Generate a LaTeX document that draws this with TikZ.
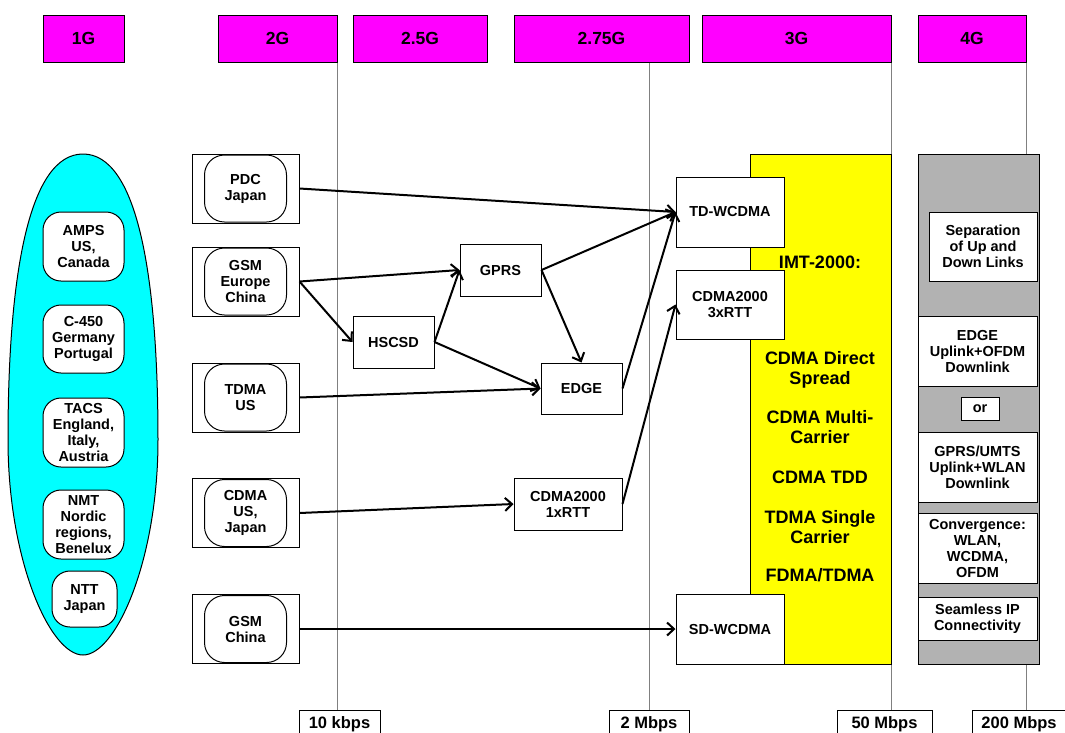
\documentclass[tikz,border=0pt]{standalone}
\usepackage{fontspec}
\setmainfont{Liberation Sans}
\usetikzlibrary{arrows.meta}
\definecolor{genmag}{RGB}{255,0,255}
\definecolor{onecyan}{RGB}{0,255,255}
\definecolor{imtyellow}{RGB}{255,255,0}
\definecolor{fourgray}{RGB}{178,178,178}
\begin{document}
\begin{tikzpicture}[x=1pt,y=-1pt,
  font=\bfseries\fontsize{14.5}{16}\selectfont, line width=1pt,
  gen/.style={draw, fill=genmag, minimum height=47pt, font=\bfseries\fontsize{17.5}{20}\selectfont},
  rate/.style={draw, fill=white, minimum height=28pt, font=\bfseries\fontsize{16.5}{19}\selectfont},
  oldsys/.style={draw, fill=white, rounded corners=18pt, align=center, minimum width=81pt, inner sep=1pt},
  sys/.style={draw, fill=white, minimum width=107pt, minimum height=69pt, align=center},
  tech/.style={draw, fill=white, align=center, inner sep=1pt},
  imt/.style={font=\bfseries\fontsize{18}{20}\selectfont, align=center},
  link/.style={line width=2pt, -{Straight Barb[length=7pt,width=13pt]}},
  rateline/.style={gray, line width=0.9pt}]
\useasboundingbox (0,0) rectangle (1065,732);
\clip (0,0) rectangle (1065,732);
% generations
\node[gen, minimum width=81pt] (g1) at (83.5,38.5) {1G};
\node[gen, minimum width=119pt] (g2) at (277.5,38.5) {2G};
\node[gen, minimum width=134pt] (g25) at (420,38.5) {2.5G};
\node[gen, minimum width=175pt] (g275) at (601.5,38.5) {2.75G};
\node[gen, minimum width=189pt] (g3) at (796.5,38.5) {3G};
\node[gen, minimum width=108pt] (g4) at (972,38.5) {4G};
% data rates
\node[rate, minimum width=81pt] (r10) at (339.5,724) {10 kbps};
\node[rate, minimum width=80pt] (r2) at (649,724) {2 Mbps};
\node[rate, minimum width=95pt] (r50) at (884.5,724) {50 Mbps};
\node[rate, minimum width=94pt] (r200) at (1019,724) {200 Mbps};
\draw[rateline] (g2.south east) -- (g2.south east |- r10.north);
\draw[rateline] (r2.north |- g275.south) -- (r2.north);
\draw[rateline] (g3.south east) -- (g3.south east |- r50.north);
\draw[rateline] (g4.south east) -- (g4.south east |- r200.north);
% 1G
\draw[fill=onecyan] (83,154) .. controls (30,154) and (8,270) .. (8,440)
  .. controls (8,560) and (50,655) .. (83,655)
  .. controls (116,655) and (158,560) .. (158,440)
  .. controls (158,270) and (136,154) .. (83,154) -- cycle;
\node[oldsys, minimum height=69pt] (amps) at (83.5,246.5) {AMPS\\US,\\Canada};
\node[oldsys, minimum height=68pt] (c450) at (83.5,339) {C-450\\Germany\\Portugal};
\node[oldsys, minimum height=69pt] (tacs) at (83.5,432.5) {TACS\\England,\\Italy,\\Austria};
\node[oldsys, minimum height=69pt] (nmt) at (83.5,524.5) {NMT\\Nordic\\regions,\\Benelux};
\node[oldsys, minimum width=65pt, minimum height=56pt] (ntt) at (84.5,599) {NTT\\Japan};
% 2G
\node[sys] (pdc) at (245.5,188.5) {PDC\\Japan};
\node[sys] (gsm) at (245.5,281.5) {GSM\\Europe\\China};
\node[sys] (tdma) at (245.5,397.5) {TDMA\\US};
\node[sys] (cdma) at (245.5,513) {CDMA\\US,\\Japan};
\node[sys] (gsmc) at (245.5,629) {GSM\\China};
\foreach \n in {pdc,gsm,tdma,cdma,gsmc}
  \draw[rounded corners=20pt] ([xshift=13pt,yshift=-1.5pt]\n.north west) rectangle ([xshift=-13pt,yshift=1.5pt]\n.south east);
% 3G and 4G areas
\draw[fill=imtyellow] (750,154) rectangle (891,664);
\draw[fill=fourgray] (918,154) rectangle (1039,664);
\node[imt] (imt) at (820,262) {IMT-2000:};
\node[imt] (dsp) at (820,369.5) {CDMA Direct\\Spread};
\node[imt] (mc) at (820,427) {CDMA Multi-\\Carrier};
\node[imt] (tdd) at (820,477) {CDMA TDD};
\node[imt] (sc) at (820,527) {TDMA Single\\Carrier};
\node[imt] (fdma) at (820,575) {FDMA/TDMA};
% 2.5G and 2.75G
\node[tech, minimum width=81pt, minimum height=52pt] (hscsd) at (393.5,342) {HSCSD};
\node[tech, minimum width=81pt, minimum height=52pt] (gprs) at (500.5,270) {GPRS};
\node[tech, minimum width=81pt, minimum height=51pt] (edge) at (581.5,388.5) {EDGE};
\node[tech, minimum width=108pt, minimum height=52pt] (x1rtt) at (568,504) {CDMA2000\\1xRTT};
% 3G
\node[tech, minimum width=108pt, minimum height=70pt] (tdw) at (730,212) {TD-WCDMA};
\node[tech, minimum width=108pt, minimum height=69pt] (x3rtt) at (730,304.5) {CDMA2000\\3xRTT};
\node[tech, minimum width=108pt, minimum height=70pt] (sdw) at (730,629) {SD-WCDMA};
% 4G
\node[tech, minimum width=108pt, minimum height=69pt] (sep) at (983,246.5) {Separation\\of Up and\\Down Links};
\node[tech, minimum width=119pt, minimum height=70pt] (eofdm) at (977.5,351) {EDGE\\Uplink+OFDM\\Downlink};
\node[tech, minimum width=38pt, minimum height=23pt] (or) at (980,408.5) {or};
\node[tech, minimum width=119pt, minimum height=70pt] (gwlan) at (977.5,467) {GPRS/UMTS\\Uplink+WLAN\\Downlink};
\node[tech, minimum width=119pt, minimum height=70pt] (conv) at (977.5,548) {Convergence:\\WLAN,\\WCDMA,\\OFDM};
\node[tech, minimum width=119pt, minimum height=43pt] (ip) at (977.5,618.5) {Seamless IP\\Connectivity};
% evolution
\draw[link] (pdc.east) -- (tdw.west);
\draw[link] (gsm.east) -- (gprs.west);
\draw[link] (gsm.east) -- (hscsd.west);
\draw[link] (hscsd.east) -- (gprs.west);
\draw[link] (hscsd.east) -- (edge.west);
\draw[link] (tdma.east) -- (edge.west);
\draw[link] (gprs.east) -- (tdw.west);
\draw[link] (gprs.east) -- (edge.north);
\draw[link] (edge.east) -- (tdw.west);
\draw[link] (cdma.east) -- (x1rtt.west);
\draw[link] (x1rtt.east) -- (x3rtt.west);
\draw[link] (gsmc.east) -- (sdw.west);
\end{tikzpicture}
\end{document}
